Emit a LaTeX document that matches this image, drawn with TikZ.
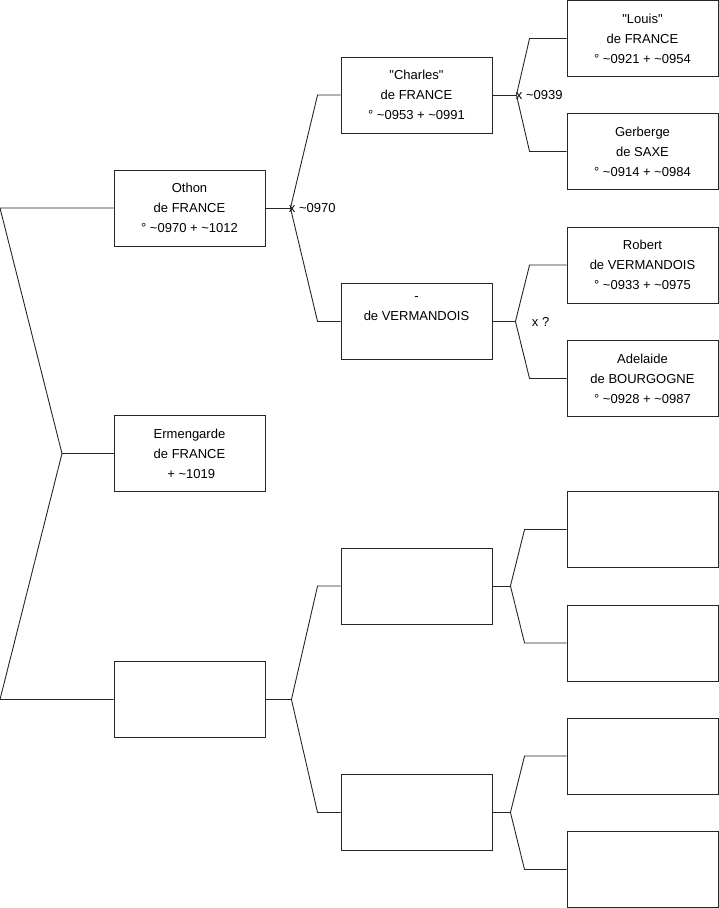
\documentclass[tikz,border=0pt]{standalone}
\usepackage{fontspec}
\setmainfont{Liberation Sans}
\usetikzlibrary{positioning}

\begin{document}
\begin{tikzpicture}[
    x=1pt, y=-1pt,
    font=\fontsize{13}{20}\selectfont,
    line width=0.9pt,
    person/.style={rectangle, draw=black!85, fill=white, minimum width=151pt, minimum height=76pt, inner sep=0pt, align=center},
    link/.style={draw=black!85},
    union/.style={anchor=west, inner sep=0pt, font=\fontsize{13}{15}\selectfont}
]
\useasboundingbox (0,0) rectangle (719,908);

% Generation 1
\node[person] (othon) at (189.5,208)   {Othon\\de FRANCE\\° \textasciitilde0970 + \textasciitilde1012};
\node[person] (ermen) at (189.5,453.5) {Ermengarde\\de FRANCE\\\ + \textasciitilde1019};
\node[person] (spouse) at (189.5,699.5) {};

% Generation 2
\node[person] (charles) at (416.5,95)    {\textquotedbl Charles\textquotedbl\\de FRANCE\\° \textasciitilde0953 + \textasciitilde0991};
\node[person] (verm)    at (416.5,321.5) {-\\de VERMANDOIS\\\strut};
\node[person] (sfather) at (416.5,586)   {};
\node[person] (smother) at (416.5,812.5) {};

% Generation 3
\node[person] (louis)    at (642.5,38.5)  {\textquotedbl Louis\textquotedbl\\de FRANCE\\° \textasciitilde0921 + \textasciitilde0954};
\node[person] (gerberge) at (642.5,151.5) {Gerberge\\de SAXE\\° \textasciitilde0914 + \textasciitilde0984};
\node[person] (robert)   at (642.5,265)   {Robert\\de VERMANDOIS\\° \textasciitilde0933 + \textasciitilde0975};
\node[person] (adelaide) at (642.5,378.5) {Adelaide\\de BOURGOGNE\\° \textasciitilde0928 + \textasciitilde0987};
\node[person] (sgf1) at (642.5,529.5) {};
\node[person] (sgm1) at (642.5,643)   {};
\node[person] (sgf2) at (642.5,756)   {};
\node[person] (sgm2) at (642.5,869.5) {};

% Root fork
\coordinate (root)    at (0,208);
\coordinate (rootmid) at (62,453.5);
\coordinate (rootlow) at (0,699.5);
\draw[link] (othon.west) -- (root) -- (rootmid) -- (rootlow) -- (spouse.west);
\draw[link] (rootmid) -- (ermen.west);

% Othon's parents
\coordinate (u1) at ([xshift=25]othon.east);
\draw[link] (othon.east) -- (u1);
\draw[link] (charles.west) -- ++(-23,0) -- (u1) -- ([xshift=-23]verm.west) -- (verm.west);
\node[union] (u1lbl) at ([xshift=-2]u1) {x \textasciitilde0970};

% Charles's parents
\coordinate (u2) at ([xshift=24]charles.east);
\draw[link] (charles.east) -- (u2);
\draw[link] (louis.west) -- ++(-37,0) -- (u2) -- ([xshift=-37]gerberge.west) -- (gerberge.west);
\node[union] (u2lbl) at ([xshift=-1]u2) {x \textasciitilde0939};

% Vermandois's parents
\coordinate (u3) at ([xshift=23]verm.east);
\draw[link] (verm.east) -- (u3);
\draw[link] (robert.west) -- ++(-37,0) -- (u3) -- ([xshift=-37]adelaide.west) -- (adelaide.west);
\node[union] (u3lbl) at ([xshift=16]u3) {x ?};

% Spouse's parents
\coordinate (u4) at ([xshift=26]spouse.east);
\draw[link] (spouse.east) -- (u4);
\draw[link] (sfather.west) -- ++(-23,0) -- (u4) -- ([xshift=-23]smother.west) -- (smother.west);

% Spouse's grandparents
\coordinate (u5) at ([xshift=18]sfather.east);
\draw[link] (sfather.east) -- (u5);
\draw[link] (sgf1.west) -- ++(-42,0) -- (u5) -- ([xshift=-42]sgm1.west) -- (sgm1.west);

\coordinate (u6) at ([xshift=18]smother.east);
\draw[link] (smother.east) -- (u6);
\draw[link] (sgf2.west) -- ++(-42,0) -- (u6) -- ([xshift=-42]sgm2.west) -- (sgm2.west);

\end{tikzpicture}
\end{document}
